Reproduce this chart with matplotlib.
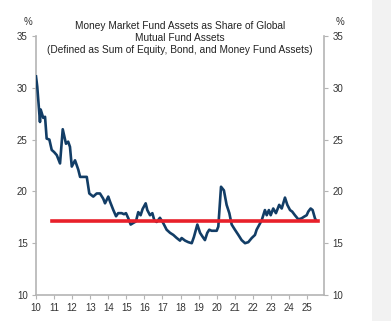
import numpy as np
import matplotlib.pyplot as plt
from matplotlib.patches import Rectangle

plt.rcParams['font.family'] = ['Liberation Sans', 'DejaVu Sans']

# share of money market funds in global fund assets (%), by year (yy)
years = [10.00, 10.07, 10.22, 10.26, 10.40, 10.50, 10.59, 10.74, 10.87, 11.00,
         11.15, 11.33, 11.48, 11.66, 11.78, 11.88, 11.98, 12.16, 12.34, 12.44,
         12.63, 12.81, 12.95, 13.17, 13.36,
         13.54, 13.72, 13.82, 14.00, 14.10, 14.28, 14.43, 14.55, 14.74, 14.87,
         14.98, 15.11, 15.24, 15.38, 15.53, 15.66, 15.79, 15.90, 16.07, 16.16,
         16.31, 16.44, 16.55, 16.68, 16.86, 17.04, 17.23, 17.42, 17.60, 17.79,
         17.97, 18.06, 18.25, 18.43, 18.62, 18.74, 18.93, 19.08, 19.23, 19.35,
         19.48, 19.59, 19.72, 20.00, 20.09, 20.24, 20.40, 20.55, 20.70, 20.83,
         21.01, 21.20, 21.38, 21.57, 21.75, 21.94, 22.12, 22.21, 22.49, 22.67,
         22.77, 22.89, 22.99, 23.13, 23.28, 23.46, 23.60, 23.78, 23.91, 24.06,
         24.18, 24.33, 24.52, 24.70, 24.83, 24.98, 25.07, 25.20, 25.31, 25.44,
         25.50]
share = [31.1, 30.1, 26.7, 27.9, 27.1, 27.2, 25.1, 25.0, 24.0, 23.8,
         23.5, 22.7, 26.0, 24.6, 24.8, 24.3, 22.4, 23.0, 22.1, 21.4,
         21.4, 21.4, 19.8, 19.5, 19.8,
         19.8, 19.3, 18.85, 19.5, 19.0, 18.2, 17.6, 17.9, 17.9, 17.8,
         17.9, 17.4, 16.8, 16.95, 17.1, 18.0, 17.7, 18.3, 18.85, 18.2,
         17.7, 17.9, 17.2, 17.05, 17.45, 16.95, 16.3, 16.0, 15.8, 15.5,
         15.25, 15.5, 15.25, 15.1, 15.0, 15.6, 16.8, 16.0, 15.6, 15.3,
         16.0, 16.3, 16.2, 16.2, 16.6, 20.45, 20.1, 18.7, 17.9, 16.8,
         16.3, 15.8, 15.3, 15.0, 15.1, 15.5, 15.8, 16.3, 17.2, 18.2,
         17.7, 18.2, 17.7, 18.35, 17.9, 18.7, 18.35, 19.4, 18.7, 18.2,
         18.05, 17.7, 17.3, 17.4, 17.55, 17.7, 18.05, 18.35, 18.2, 17.4,
         17.2]

avg_level = 17.1
avg_span = [10.9, 25.6]

title = ("Money Market Fund Assets as Share of Global\n"
         "Mutual Fund Assets\n"
         "(Defined as Sum of Equity, Bond, and Money Fund Assets)")

fig = plt.figure(figsize=(3.91, 3.21), dpi=100)
fig.patches.append(Rectangle((372 / 391, 0), 19 / 391, 1, transform=fig.transFigure,
                             facecolor='#f2f2f2', edgecolor='none'))
ax = fig.add_axes([36 / 391, 1 - 295 / 321, 288 / 391, 259 / 321])

ax.plot(years, share, color='#123d66', lw=1.9, solid_joinstyle='round', zorder=3)
ax.plot(avg_span, [avg_level, avg_level], color='#e8202a', lw=2.6, zorder=4)

ax.set_xlim(10, 25.94)
ax.set_ylim(10, 35)
ax.set_xticks(range(10, 26))
ax.set_xticklabels([str(y) for y in range(10, 26)])
ax.set_yticks(range(10, 36, 5))

grey = '#b4b4b4'
ax.spines['top'].set_visible(False)
for side in ['left', 'right', 'bottom']:
    ax.spines[side].set_color(grey)
    ax.spines[side].set_linewidth(1.2)

ax.tick_params(axis='both', labelsize=7, colors='#333333', length=3, width=0.8)
ax.tick_params(axis='both', color=grey)
ax.tick_params(axis='y', left=True, right=True, labelleft=True, labelright=True, pad=3)
ax.tick_params(axis='x', pad=3)

fig.text(28 / 391, 1 - 22 / 321, '%', fontsize=7, color='#333333', ha='center', va='center')
fig.text(340 / 391, 1 - 22 / 321, '%', fontsize=7, color='#333333', ha='center', va='center')
fig.text(180 / 391, 1 - 38 / 321, title, fontsize=7.3, color='#222222',
         ha='center', va='center', linespacing=1.25)

fig.savefig('out.png', dpi=100, facecolor='white')
